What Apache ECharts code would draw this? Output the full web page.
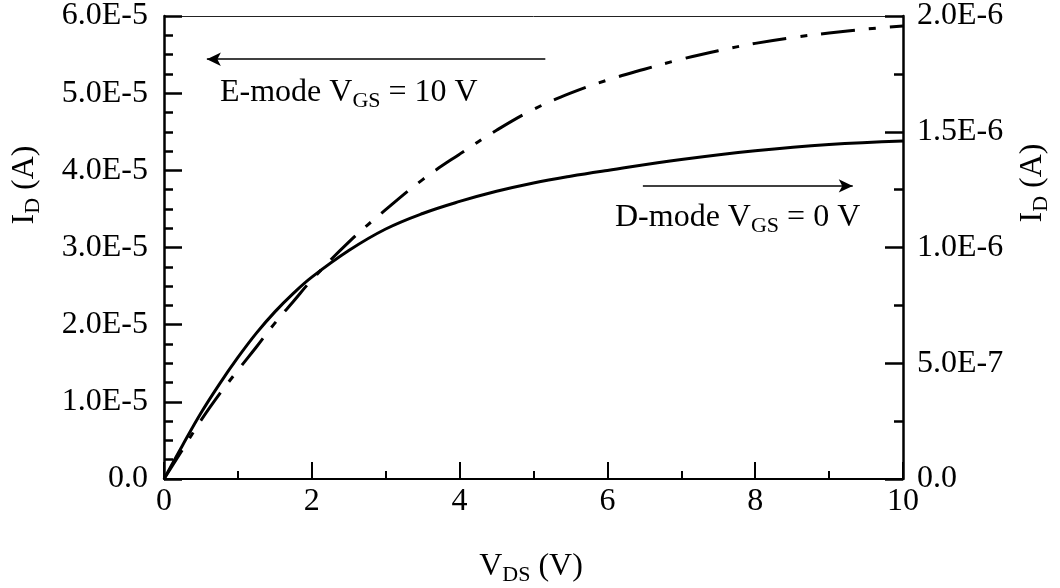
<!DOCTYPE html>
<html>
<head>
<meta charset="utf-8">
<title>I-V output characteristics</title>
<script src="https://cdn.jsdelivr.net/npm/echarts@6/dist/echarts.min.js"></script>
<style>
  html, body { margin: 0; padding: 0; background: #fff; }
  #chart { width: 1060px; height: 588px; }
</style>
</head>
<body>
<div id="chart"></div>
<script>
// E-mode device, V_GS = 10 V (left axis, A)
const vdsE = [0, 0.25, 0.5, 0.75, 1, 1.25, 1.5, 1.75, 2, 2.5, 3, 3.5, 4, 4.5, 5, 5.5,
  6, 6.5, 7, 7.5, 8, 8.5, 9, 9.5, 10];
const idE = [0, 0.38e-5, 0.76e-5, 1.10e-5, 1.41e-5, 1.71e-5, 2.02e-5, 2.30e-5, 2.58e-5,
  3.07e-5, 3.49e-5, 3.88e-5, 4.21e-5, 4.52e-5, 4.79e-5, 5.0e-5, 5.17e-5, 5.31e-5, 5.44e-5,
  5.55e-5, 5.645e-5, 5.72e-5, 5.78e-5, 5.83e-5, 5.87e-5];

// D-mode device, V_GS = 0 V (right axis, A)
const vdsD = [0, 0.25, 0.5, 0.75, 1, 1.25, 1.5, 1.75, 2, 2.5, 3, 3.5, 4, 4.5, 5, 5.5,
  6, 7, 8, 9, 10];
const idD = [0, 1.45e-7, 2.85e-7, 4.1e-7, 5.25e-7, 6.3e-7, 7.22e-7, 8.02e-7, 8.72e-7,
  9.87e-7, 10.8e-7, 11.47e-7, 11.99e-7, 12.43e-7, 12.79e-7, 13.08e-7, 13.33e-7, 13.8e-7,
  14.18e-7, 14.45e-7, 14.6e-7];

// Tick labels
const xTickLabels = ['0', '2', '4', '6', '8', '10'];
const leftTickLabels = ['0.0', '1.0E-5', '2.0E-5', '3.0E-5', '4.0E-5', '5.0E-5', '6.0E-5'];
const rightTickLabels = ['0.0', '5.0E-7', '1.0E-6', '1.5E-6', '2.0E-6'];

// Annotation arrows: [x0, y0] -> [x1, y1] in data units
const arrowE = [[5.16, 5.44e-5], [0.58, 5.44e-5]];   // left axis
const arrowD = [[6.48, 1.266e-6], [9.32, 1.266e-6]]; // right axis

const FONT = "'Liberation Serif', 'Times New Roman', serif";
const FS = 32;
const SUB = 22;

const rich = {
  m: { fontFamily: FONT, fontSize: FS, lineHeight: 38, fill: '#000', color: '#000', verticalAlign: 'middle' },
  s: { fontFamily: FONT, fontSize: SUB, lineHeight: 19, fill: '#000', color: '#000', verticalAlign: 'bottom' }
};

function textEl(x, y, text, rotation, align) {
  return {
    type: 'text',
    x: x, y: y,
    rotation: rotation || 0,
    style: {
      text: text,
      rich: rich,
      fontFamily: FONT,
      fontSize: FS,
      fill: '#000',
      align: align || 'center',
      textAlign: align || 'center',
      verticalAlign: 'middle',
      textVerticalAlign: 'middle'
    }
  };
}

function zip(a, b) { return a.map((v, i) => [v, b[i]]); }

const axisLabelStyle = { fontFamily: FONT, fontSize: FS, color: '#000' };

const chart = echarts.init(document.getElementById('chart'), null, { renderer: 'canvas' });

chart.setOption({
  animation: false,
  backgroundColor: '#fff',
  grid: { left: 164, right: 157, top: 16, bottom: 109, containLabel: false },
  xAxis: [
    {
      type: 'value', min: 0, max: 10, interval: 2, position: 'bottom',
      axisLine: { show: true, onZero: false, lineStyle: { color: '#000', width: 2 } },
      axisTick: { show: true, inside: true, length: 17, lineStyle: { color: '#000', width: 2 } },
      minorTick: { show: true, splitNumber: 2, length: 8, lineStyle: { color: '#000', width: 2 } },
      splitLine: { show: false },
      axisLabel: Object.assign({ margin: 7, formatter: (v, i) => xTickLabels[i] }, axisLabelStyle)
    },
    {
      type: 'value', min: 0, max: 10, interval: 2, position: 'top',
      axisLine: { show: true, onZero: false, lineStyle: { color: '#222', width: 1 } },
      axisTick: { show: false }, axisLabel: { show: false }, splitLine: { show: false }
    }
  ],
  yAxis: [
    {
      type: 'value', min: 0, max: 6e-5, interval: 1e-5, position: 'left',
      axisLine: { show: true, onZero: false, lineStyle: { color: '#000', width: 2.5 } },
      axisTick: { show: true, inside: true, length: 18, lineStyle: { color: '#000', width: 2.5 } },
      minorTick: { show: true, splitNumber: 4, length: 9, lineStyle: { color: '#000', width: 2.5 } },
      splitLine: { show: false },
      axisLabel: Object.assign({ margin: 16, formatter: (v, i) => leftTickLabels[i] }, axisLabelStyle)
    },
    {
      type: 'value', min: 0, max: 2e-6, interval: 5e-7, position: 'right',
      axisLine: { show: true, onZero: false, lineStyle: { color: '#000', width: 2.5 } },
      axisTick: { show: true, inside: true, length: 18, lineStyle: { color: '#000', width: 2.5 } },
      minorTick: { show: true, splitNumber: 2, length: 9, lineStyle: { color: '#000', width: 2.5 } },
      splitLine: { show: false },
      axisLabel: Object.assign({ margin: 14, formatter: (v, i) => rightTickLabels[i] }, axisLabelStyle)
    }
  ],
  series: [
    {
      name: 'E-mode', type: 'line', xAxisIndex: 0, yAxisIndex: 0,
      data: zip(vdsE, idE), smooth: 0.4, showSymbol: false, symbol: 'none',
      lineStyle: { color: '#000', width: 3, type: [34, 14, 7, 14], cap: 'butt' },
      markLine: {
        silent: true, symbol: ['none', 'arrow'], symbolSize: [10, 14],
        label: { show: false },
        lineStyle: { color: '#000', width: 1.5, type: 'solid' },
        data: [[{ coord: arrowE[0] }, { coord: arrowE[1] }]]
      }
    },
    {
      name: 'D-mode', type: 'line', xAxisIndex: 0, yAxisIndex: 1,
      data: zip(vdsD, idD), smooth: 0.4, showSymbol: false, symbol: 'none',
      lineStyle: { color: '#000', width: 3, type: 'solid' },
      markLine: {
        silent: true, symbol: ['none', 'arrow'], symbolSize: [10, 14],
        label: { show: false },
        lineStyle: { color: '#000', width: 1.5, type: 'solid' },
        data: [[{ coord: arrowD[0] }, { coord: arrowD[1] }]]
      }
    }
  ],
  graphic: [
    textEl(25, 185, '{m|I}{s|D}{m| (A)}', Math.PI / 2, 'center'),
    textEl(1033, 183, '{m|I}{s|D}{m| (A)}', Math.PI / 2, 'center'),
    textEl(531, 567, '{m|V}{s|DS}{m| (V)}', 0, 'center'),
    textEl(220, 93, '{m|E-mode V}{s|GS}{m| = 10 V}', 0, 'left'),
    textEl(615, 218, '{m|D-mode V}{s|GS}{m| = 0 V}', 0, 'left')
  ]
});
</script>
</body>
</html>
